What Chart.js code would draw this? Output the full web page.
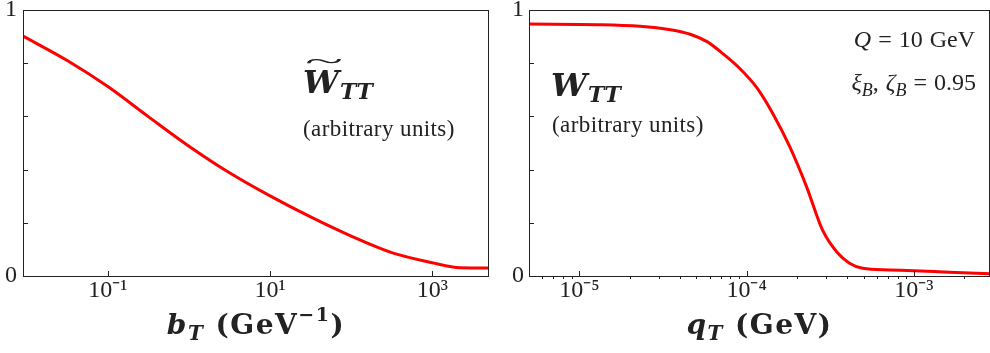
<!DOCTYPE html>
<html>
<head>
<meta charset="utf-8">
<script src="https://cdn.jsdelivr.net/npm/chart.js@4.4.1/dist/chart.umd.min.js"></script>
<style>
body { margin: 0; background: #fff; }
#wrap { position: relative; width: 990px; height: 353px; overflow: hidden; font-family: 'Liberation Serif', serif; color: #222; }
.panel { position: absolute; top: 0; width: 495px; height: 353px; }
.lbl { position: absolute; white-space: nowrap; line-height: 1; }
.big { font-family: 'DejaVu Serif', serif; font-size: 32px; font-weight: bold; font-style: italic; letter-spacing: 1px; }
.sub { font-size: 22px; position: relative; top: 6px; }
.units { font-size: 23px; letter-spacing: 0.4px; }
.note { font-size: 24px; text-align: right; word-spacing: 1px; }
.note sub { font-size: 18px; }
.axt { font-family: 'DejaVu Serif', serif; font-size: 28px; font-weight: bold; text-align: center; letter-spacing: 1.5px; }
.axt sub { font-size: 20px; vertical-align: baseline; position: relative; top: 6px; }
.axt sup { font-size: 19px; vertical-align: baseline; position: relative; top: -13px; }
</style>
</head>
<body>
<div id="wrap">
  <div class="panel" style="left:0"><canvas id="left"></canvas></div>
  <div class="panel" style="left:495px"><canvas id="right"></canvas></div>

  <div class="lbl big" style="left:303px;top:66px">W<span class="sub">TT</span></div>
  <div class="lbl" style="left:305px;top:48px;font-size:26px;transform:scaleX(2.7);transform-origin:left top">~</div>
  <div class="lbl units" style="left:303px;top:117px">(arbitrary units)</div>

  <div class="lbl big" style="left:551px;top:69px">W<span class="sub">TT</span></div>
  <div class="lbl units" style="left:552px;top:113px">(arbitrary units)</div>

  <div class="lbl note" style="right:15px;top:27px"><i>Q</i> = 10 GeV</div>
  <div class="lbl note" style="right:14px;top:70px"><i>ξ</i><sub><i>B</i></sub>, <i>ζ</i><sub><i>B</i></sub> = 0.95</div>

  <div class="lbl axt" style="left:23px;width:466px;top:311px"><i>b</i><sub><i>T</i></sub> (GeV<sup>−1</sup>)</div>
  <div class="lbl axt" style="left:529px;width:461px;top:311px"><i>q</i><sub><i>T</i></sub> (GeV)</div>
</div>

<script>
// left panel: W~_TT vs b_T
const bT = [0.009, 0.0316, 0.1, 0.316, 1, 3.16, 10, 31.6, 100, 316, 1000, 2200, 5000];
const wTilde = [0.902, 0.810, 0.712, 0.599, 0.488, 0.388, 0.301, 0.222, 0.150, 0.088, 0.050, 0.031, 0.030];

// right panel: W_TT vs q_T
const qT = [5e-6, 1.3e-5, 2.3e-5, 3.5e-5, 4.6e-5, 5.8e-5, 7.2e-5, 9.1e-5, 1.15e-4, 1.43e-4, 1.81e-4, 2.28e-4, 2.84e-4, 3.45e-4, 4.12e-4, 4.93e-4, 7.15e-4, 1e-3, 1.63e-3, 2.85e-3];
const wTT = [0.947, 0.945, 0.939, 0.926, 0.909, 0.881, 0.836, 0.780, 0.708, 0.612, 0.486, 0.336, 0.173, 0.091, 0.048, 0.029, 0.023, 0.020, 0.014, 0.008];

const leftTicks = [0.1, 10, 1000];
const leftTickLabels = ['10⁻¹', '10¹', '10³'];
const rightTicks = [1e-5, 1e-4, 1e-3];
const rightTickLabels = ['10⁻⁵', '10⁻⁴', '10⁻³'];
const yTicks = [0, 0.2, 0.4, 0.6, 0.8, 1];
const yTickLabels = ['0', '', '', '', '', '1'];

const ink = '#222';
const tickFont = { family: "'Liberation Serif', serif", size: 24 };

// matplotlib-like frame with inward ticks
const frameTicks = {
    id: 'frameTicks',
    afterDraw(chart) {
        const ctx = chart.ctx;
        const a = chart.chartArea;
        const x = chart.scales.x, y = chart.scales.y;
        ctx.save();
        ctx.strokeStyle = ink;
        ctx.lineWidth = 1;
        ctx.beginPath();
        x.ticks.forEach(t => {
            const px = Math.round(x.getPixelForValue(t.value)) + 0.5;
            if (t.major) { ctx.moveTo(px, a.bottom); ctx.lineTo(px, a.bottom - 5); }
            else { ctx.moveTo(px, a.bottom); ctx.lineTo(px, a.bottom + 3); }
        });
        y.ticks.forEach(t => {
            const py = Math.round(y.getPixelForValue(t.value)) + 0.5;
            ctx.moveTo(a.left, py); ctx.lineTo(a.left + 5, py);
        });
        ctx.stroke();
        ctx.strokeRect(a.left + 0.5, a.top + 0.5, a.right - a.left - 1, a.bottom - a.top);
        ctx.restore();
    }
};

function minorTicks(lo, hi) {
    const out = [];
    for (let e = Math.floor(Math.log10(lo)); e <= Math.ceil(Math.log10(hi)); e++) {
        for (let k = 2; k <= 9; k++) {
            const v = k * Math.pow(10, e);
            if (v >= lo && v <= hi) out.push(v);
        }
    }
    return out;
}

function makePanel(id, xs, ys, xMin, xMax, majors, majorLabels, minors, yWidth, yPad) {
    const ctx = document.getElementById(id).getContext('2d');
    return new Chart(ctx, {
        type: 'line',
        data: {
            datasets: [{
                data: xs.map((v, i) => ({ x: v, y: ys[i] })),
                borderColor: '#ff0000',
                borderWidth: 3,
                pointRadius: 0,
                fill: false,
                cubicInterpolationMode: 'monotone'
            }]
        },
        options: {
            responsive: true,
            maintainAspectRatio: false,
            animation: false,
            layout: { padding: { top: 10, right: id === 'left' ? 6 : 0, left: 0, bottom: 0 } },
            plugins: { legend: { display: false }, tooltip: { enabled: false } },
            scales: {
                x: {
                    type: 'logarithmic',
                    min: xMin,
                    max: xMax,
                    grid: { display: false, drawTicks: false },
                    border: { display: false },
                    afterBuildTicks: s => {
                        s.ticks = majors.map(v => ({ value: v, major: true }))
                            .concat(minors.map(v => ({ value: v, major: false })));
                    },
                    afterFit: s => { s.height = 77; s.paddingLeft = 0; s.paddingRight = 0; },
                    ticks: {
                        autoSkip: false,
                        maxRotation: 0,
                        padding: 0,
                        color: ink,
                        font: tickFont,
                        callback: (v) => {
                            const i = majors.indexOf(v);
                            return i >= 0 ? majorLabels[i] : '';
                        }
                    }
                },
                y: {
                    min: 0,
                    max: 1,
                    grid: { display: false, drawTicks: false },
                    border: { display: false },
                    afterBuildTicks: s => { s.ticks = yTicks.map(v => ({ value: v })); },
                    afterFit: s => { s.width = yWidth; s.paddingTop = 0; s.paddingBottom = 0; },
                    ticks: {
                        padding: yPad,
                        color: ink,
                        font: tickFont,
                        callback: (v) => yTickLabels[yTicks.indexOf(v)] || ''
                    }
                }
            }
        },
        plugins: [frameTicks]
    });
}

makePanel('left', bT, wTilde, 0.009, 5000, leftTicks, leftTickLabels, [], 23, 6);
makePanel('right', qT, wTT, 5e-6, 2.85e-3, rightTicks, rightTickLabels, minorTicks(5e-6, 2.85e-3), 34, 5);
</script>
</body>
</html>
